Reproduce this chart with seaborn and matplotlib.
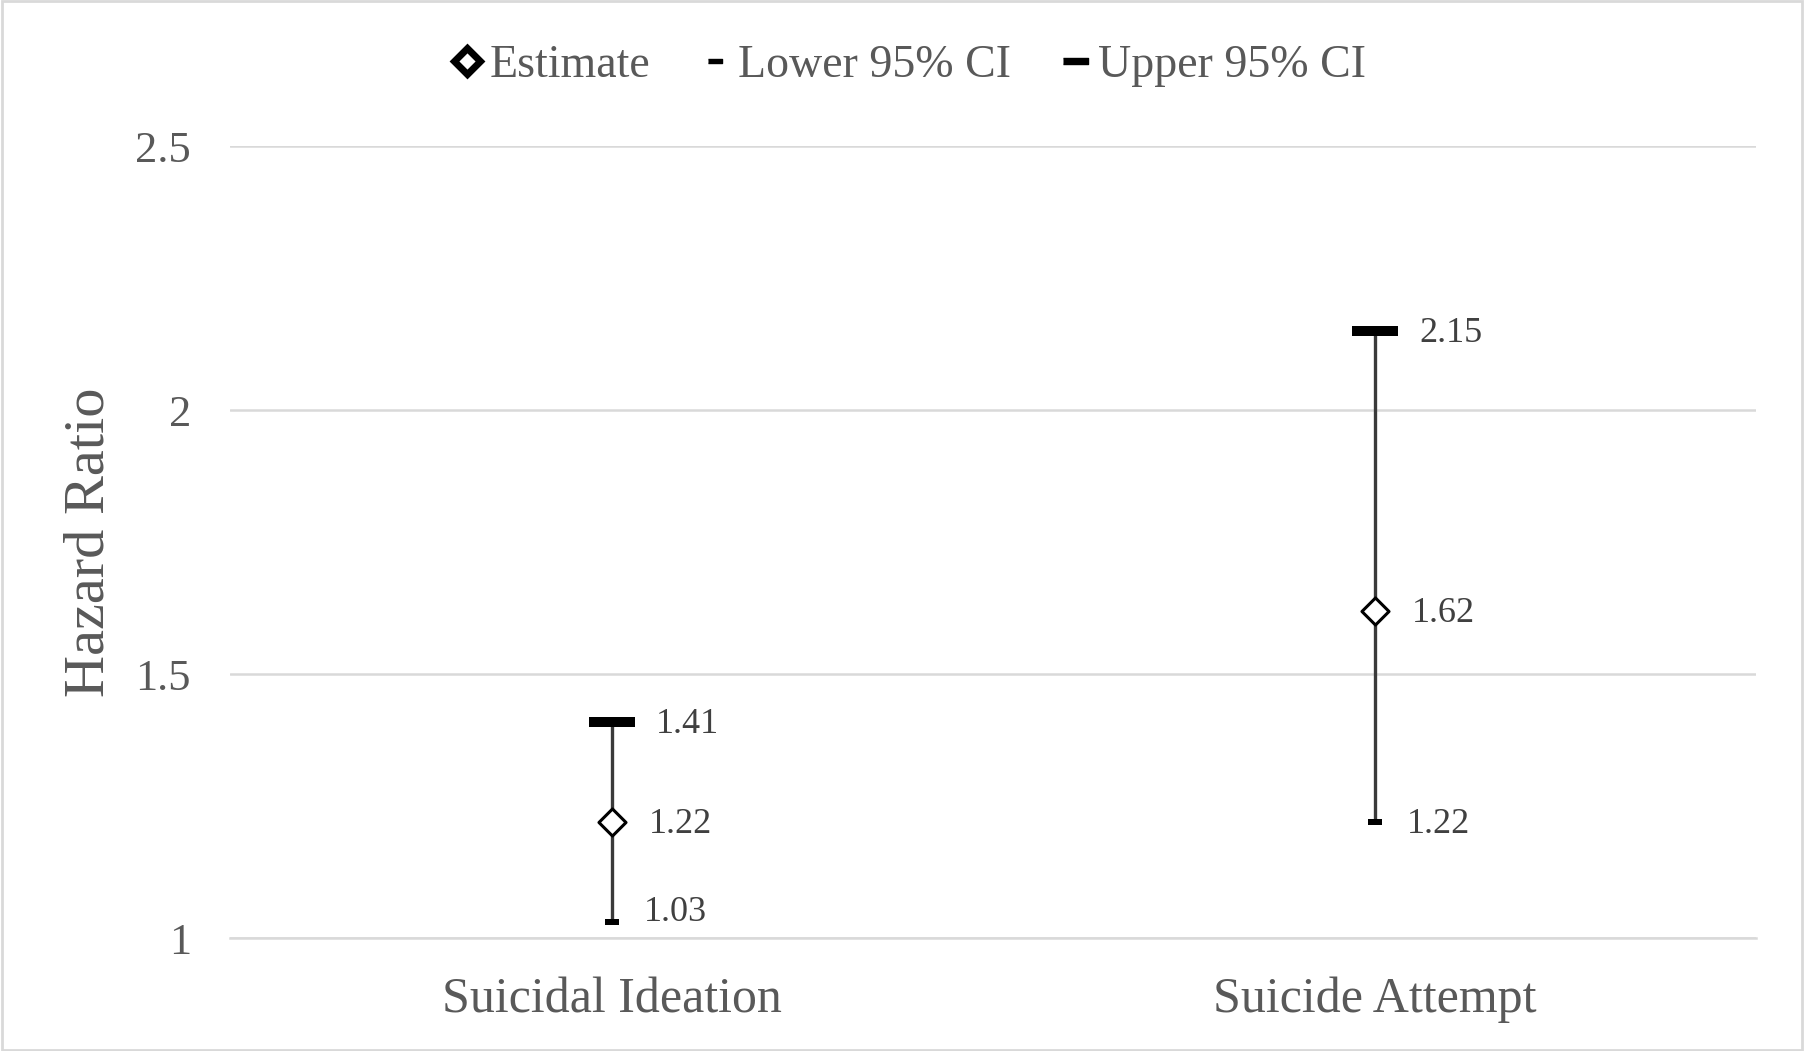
import matplotlib
matplotlib.use("Agg")
import matplotlib.pyplot as plt
from matplotlib.lines import Line2D
from matplotlib.patches import Rectangle
import seaborn as sns
import numpy as np
import pandas as pd

outcomes = ["Suicidal Ideation", "Suicide Attempt"]
estimate = [1.22, 1.62]
lower_ci = [1.03, 1.22]
upper_ci = [1.41, 2.15]
y_ticks = [1, 1.5, 2, 2.5]
y_tick_labels = ["1", "1.5", "2", "2.5"]

sns.set_style("white")
plt.rcParams["font.family"] = ["Liberation Serif", "DejaVu Serif"]

df = pd.DataFrame({"pos": np.arange(len(outcomes)), "outcome": outcomes,
                   "estimate": estimate, "lower": lower_ci, "upper": upper_ci})

upper_cap = [(-1, -0.23), (1, -0.23), (1, 0.23), (-1, 0.23)]
lower_cap = [(-1, -0.35), (1, -0.35), (1, 0.35), (-1, 0.35)]
y_min, y_max = 1, 2.5

fig = plt.figure(figsize=(18.04, 10.51), dpi=100)
ax = fig.add_axes([0.1275, 0.1075, 0.9734 - 0.1275, 0.861 - 0.1075])

# whiskers
ax.vlines(df["pos"], df["lower"], df["upper"], color="#3a3a3a", lw=2.4, zorder=2)

sns.scatterplot(data=df, x="pos", y="upper", marker=upper_cap, s=1050, color="black",
                linewidth=0, ax=ax, zorder=3)
sns.scatterplot(data=df, x="pos", y="lower", marker=lower_cap, s=110, color="black",
                linewidth=0, ax=ax, zorder=3)
sns.scatterplot(data=df, x="pos", y="estimate", marker="D", s=190, color="white",
                edgecolor="black", linewidth=2.2, ax=ax, zorder=4)

lab_kw = dict(textcoords="offset points", va="center", ha="left", fontsize=26, color="#404040")
for _, r in df.iterrows():
    ax.annotate(f"{r['upper']:.2f}", (r["pos"], r["upper"]), xytext=(32, -2), **lab_kw)
    ax.annotate(f"{r['estimate']:.2f}", (r["pos"], r["estimate"]), xytext=(27, -2), **lab_kw)
    # labels close to the bottom of the plot get nudged up, as Excel does
    dy = 7 if r["lower"] - y_min < 0.06 else -2
    ax.annotate(f"{r['lower']:.2f}", (r["pos"], r["lower"]), xytext=(23, dy), **lab_kw)

ax.set_xlim(-0.5, len(outcomes) - 0.5)
ax.set_ylim(y_min, y_max)
ax.set_yticks(y_ticks)
ax.set_yticklabels(y_tick_labels)
ax.set_xticks(df["pos"])
ax.set_xticklabels(outcomes)
ax.set_xticks(np.arange(len(outcomes) + 1) - 0.5, minor=True)
ax.tick_params(axis="x", which="major", length=0, pad=28, labelsize=36, labelcolor="#595959")
ax.tick_params(axis="x", which="minor", length=7, width=1.5, color="#d9d9d9", direction="out")
ax.tick_params(axis="y", length=0, pad=28, labelsize=32, labelcolor="#595959")
ax.set_xlabel("")
ax.set_ylabel("Hazard Ratio", fontsize=42, color="#595959", labelpad=14)

ax.grid(axis="y", color="#d9d9d9", lw=1.8)
ax.set_axisbelow(True)
for side in ["left", "right", "top"]:
    ax.spines[side].set_visible(False)
ax.spines["bottom"].set_color("#d9d9d9")
ax.spines["bottom"].set_linewidth(1.8)

handles = [
    Line2D([], [], marker="D", ls="none", color="black", markerfacecolor="white",
           markeredgewidth=5, markersize=13),
    Line2D([], [], marker=lower_cap, ls="none", color="black", markersize=10),
    Line2D([], [], marker=upper_cap, ls="none", color="black", markersize=18),
]
fig.legend(handles, ["Estimate", "Lower 95% CI", "Upper 95% CI"], loc="center",
           bbox_to_anchor=(0.503, 0.937), ncol=3, frameon=False, fontsize=33,
           labelcolor="#595959", handlelength=0.8, handletextpad=0.1, columnspacing=1.0)

fig.patches.append(Rectangle((0.001, 0.001), 0.998, 0.998, transform=fig.transFigure,
                             fill=False, edgecolor="#d9d9d9", lw=2))

fig.savefig("out.png", dpi=100)
